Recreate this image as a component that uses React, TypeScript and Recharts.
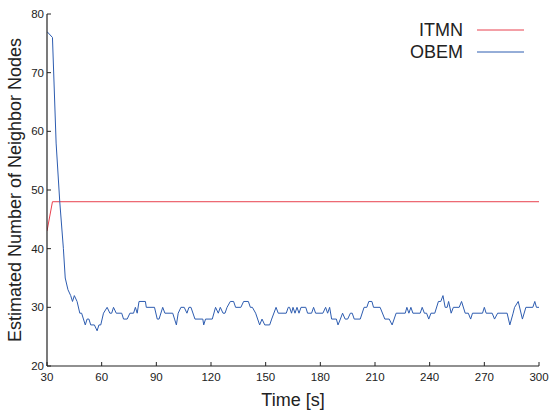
import { Legend, Line, LineChart, XAxis, YAxis } from "recharts";

const xTicks = [30, 60, 90, 120, 150, 180, 210, 240, 270, 300];
const yTicks = [20, 30, 40, 50, 60, 70, 80];

const itmnTime = [30, 33, 300];
const itmnValue = [43, 48, 48];

const obemTime = [
  30, 33, 35, 37, 39, 40, 41.5, 43, 44, 45, 46.5, 48, 49, 51, 52, 53, 54, 56,
  57.5, 58.5, 59.5, 61, 63, 64.5, 65.5, 66.5, 68, 71, 72, 74, 75.5, 77.5, 78.5,
  79.5, 80.5, 84, 84.5, 89, 90.5, 91.5, 93.5, 94.7, 99, 100, 101, 102, 103.5,
  105.3, 106.8, 107.9, 109, 111.2, 115.5, 116, 117, 120.7, 122.5, 124, 125.1,
  126.6, 127.7, 128.8, 130.6, 132.4, 133.5, 136.4, 137.9, 140.5, 141.6, 142.7,
  144.5, 146.7, 148, 149.5, 152.2, 153.3, 155.7, 156.9, 161.3, 162.4, 163.1,
  164.2, 165, 166.1, 167.2, 168.3, 169.4, 172, 173, 175.2, 176.3, 177.4, 181.4,
  182.9, 184, 185.1, 186.2, 188.8, 189.7, 191, 192.2, 193.6, 195, 196.5, 197.5,
  198.6, 201.9, 204, 205.5, 206.6, 208.3, 209.2, 212.8, 215.4, 217.8, 219.4,
  221.6, 226.6, 227.5, 228.6, 229.7, 230.8, 234.8, 235.9, 237.1, 238.3, 239.5,
  240.7, 242.8, 244.8, 246.1, 247.3, 248.5, 249.6, 250.4, 251.8, 253, 256.2,
  257.5, 259.5, 261.2, 262.5, 263.5, 269, 270, 271, 274.3, 275.6, 277.3, 282.5,
  284, 285.8, 286.6, 288.6, 290.9, 292.8, 296.6, 297.7, 298.6, 300,
];
const obemValue = [
  77, 76, 58, 48, 40, 35, 33, 32, 31, 32, 31, 29, 29, 27, 28, 28, 27, 27,
  26, 27, 27, 29, 30, 29, 29, 30, 29, 29, 28, 28, 29, 29, 30,
  29, 31, 31, 30, 30, 28, 28, 30, 29, 29, 28, 27, 29, 30,
  30, 29, 30, 30, 28, 28, 27, 28, 28, 30, 29, 30,
  29, 29, 30, 31, 31, 30, 30, 31, 31, 30, 30,
  29, 27, 28, 27, 27, 28, 30, 29, 29, 30, 30,
  29, 30, 29, 30, 29, 30, 30, 29, 29, 30, 29, 29,
  30, 29, 30, 28, 28, 27, 28, 29, 28, 28, 29, 29,
  28, 28, 30, 30, 31, 31, 30, 30, 28, 28, 27,
  29, 29, 30, 29, 30, 29, 29, 30, 29, 29, 28,
  29, 29, 31, 31, 32, 30, 30, 31, 29, 30, 30,
  31, 29, 29, 28, 29, 29, 30, 29, 29, 28, 29, 29,
  27, 29, 30, 31, 28, 30, 30, 31, 30, 30,
];

const itmnData = itmnTime.map((t, i) => ({ t, v: itmnValue[i] }));
const obemData = obemTime.map((t, i) => ({ t, v: obemValue[i] }));

const FONT = "'Liberation Sans', Arial, Helvetica, sans-serif";
const INK = "#222";
const RED = "#e8404e";
const BLUE = "#2d5cb0";
const TICK_LEN = 4;

function BottomTick({ x, y, payload }: any) {
  return (
    <g>
      <line x1={x} x2={x} y1={y} y2={y - TICK_LEN} stroke={INK} />
      <text x={x} y={y + 15} textAnchor="middle" fill={INK} fontSize={11.5} fontFamily={FONT}>
        {payload.value}
      </text>
    </g>
  );
}

function TopTick({ x, y }: any) {
  return <line x1={x} x2={x} y1={y} y2={y + TICK_LEN} stroke={INK} />;
}

function LeftTick({ x, y, payload }: any) {
  return (
    <g>
      <line x1={x} x2={x + TICK_LEN} y1={y} y2={y} stroke={INK} />
      <text x={x - 3} y={y + 4} textAnchor="end" fill={INK} fontSize={11.5} fontFamily={FONT}>
        {payload.value}
      </text>
    </g>
  );
}

function RightTick({ x, y }: any) {
  return <line x1={x} x2={x - TICK_LEN} y1={y} y2={y} stroke={INK} />;
}

function LegendBox({ payload }: any) {
  return (
    <div style={{ fontFamily: FONT, fontSize: 18, color: INK }}>
      {(payload || []).map((p: any) => (
        <div key={p.value} style={{ display: "flex", alignItems: "center", height: 22 }}>
          <span style={{ width: 68, textAlign: "right", lineHeight: "22px" }}>{p.value}</span>
          <svg width={61} height={22} style={{ display: "block" }}>
            <line x1={14} x2={61} y1={11} y2={11} stroke={p.color} strokeWidth={1} />
          </svg>
        </div>
      ))}
    </div>
  );
}

export default function App() {
  return (
    <div style={{ position: "absolute", left: 0, top: 0, width: 551, height: 412, background: "#fff" }}>
      <LineChart width={551} height={412} margin={{ top: 14, right: 12, bottom: 0, left: 0 }}>
        <XAxis
          type="number"
          dataKey="t"
          domain={[30, 300]}
          ticks={xTicks}
          interval={0}
          allowDataOverflow
          height={46}
          tickSize={0}
          tickMargin={0}
          tickLine={false}
          axisLine={{ stroke: INK, strokeWidth: 1.2 }}
          tick={<BottomTick />}
          label={{
            value: "Time [s]",
            position: "insideBottom",
            offset: 6,
            style: { fontSize: 18, fontFamily: FONT, fill: INK },
          }}
        />
        <XAxis
          xAxisId="top"
          orientation="top"
          type="number"
          domain={[30, 300]}
          ticks={xTicks}
          interval={0}
          allowDataOverflow
          height={0}
          tickSize={0}
          tickMargin={0}
          tickLine={false}
          axisLine={{ stroke: INK, strokeWidth: 1.2 }}
          tick={<TopTick />}
        />
        <YAxis
          type="number"
          domain={[20, 80]}
          ticks={yTicks}
          interval={0}
          allowDataOverflow
          width={47}
          tickSize={0}
          tickMargin={0}
          tickLine={false}
          axisLine={{ stroke: INK, strokeWidth: 1.2 }}
          tick={<LeftTick />}
          label={{
            value: "Estimated Number of Neighbor Nodes",
            angle: -90,
            position: "insideLeft",
            offset: 15,
            style: { fontSize: 18, fontFamily: FONT, fill: INK, textAnchor: "middle" },
          }}
        />
        <YAxis
          yAxisId="right"
          orientation="right"
          type="number"
          domain={[20, 80]}
          ticks={yTicks}
          interval={0}
          allowDataOverflow
          width={0}
          tickSize={0}
          tickMargin={0}
          tickLine={false}
          axisLine={{ stroke: INK, strokeWidth: 1.2 }}
          tick={<RightTick />}
        />
        <Legend
          layout="vertical"
          align="center"
          verticalAlign="middle"
          content={<LegendBox />}
          wrapperStyle={{ top: 19, left: 395, width: 140, bottom: "auto", right: "auto" }}
        />
        <Line
          name="ITMN"
          data={itmnData}
          dataKey="v"
          type="linear"
          stroke={RED}
          strokeWidth={1}
          dot={false}
          isAnimationActive={false}
        />
        <Line
          name="OBEM"
          data={obemData}
          dataKey="v"
          type="linear"
          stroke={BLUE}
          strokeWidth={1}
          dot={false}
          isAnimationActive={false}
        />
      </LineChart>
    </div>
  );
}
